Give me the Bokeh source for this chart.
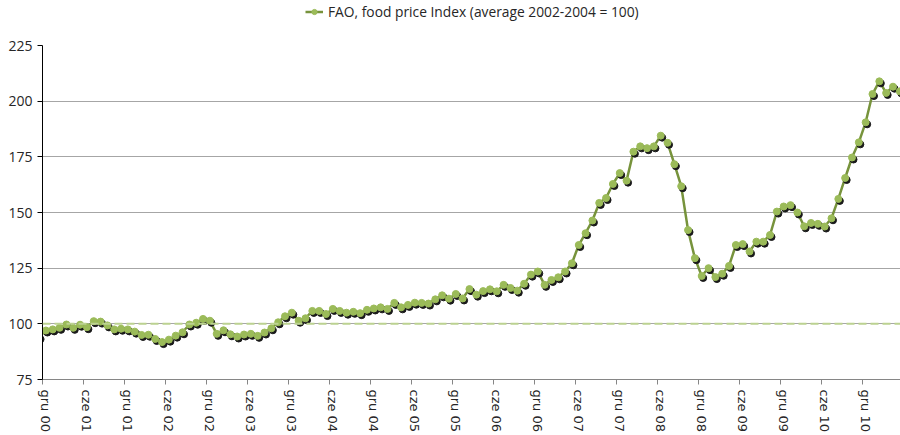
from bokeh.plotting import figure
from bokeh.layouts import column
from bokeh.models import (ColumnDataSource, FixedTicker, Span, Legend, LegendItem,
                          Range1d, CustomJSTickFormatter)
from bokeh.transform import dodge
from bokeh.embed import file_html
from bokeh.resources import INLINE

# Monthly FAO food price index, Nov 2000 (partly outside the plot) .. May 2011
series_name = "FAO, food price Index (average 2002-2004 = 100)"
fao_index = [
    94.0,
    97.0, 97.5, 98.2, 99.7, 98.2, 99.6, 98.5, 101.2, 101.0, 99.3, 97.5, 97.8,
    97.5, 96.5, 95.0, 95.1, 93.2, 91.8, 92.9, 94.7, 96.2, 99.7, 100.5, 102.2,
    101.4, 95.5, 97.1, 95.3, 94.3, 95.2, 95.5, 94.6, 96.1, 98.0, 100.7, 103.4,
    105.0, 101.4, 102.5, 105.8, 105.8, 104.4, 106.7, 105.8, 105.0, 105.4, 104.8, 106.3,
    106.9, 107.4, 106.7, 109.4, 107.4, 108.5, 109.5, 109.4, 109.1, 111.0, 112.8, 111.3,
    113.4, 111.4, 115.6, 113.1, 114.7, 115.5, 114.6, 117.5, 116.1, 114.9, 118.0, 122.1,
    123.5, 117.5, 119.7, 120.9, 123.5, 127.2, 135.4, 140.7, 146.4, 154.3, 156.5, 162.8,
    167.7, 164.3, 177.3, 179.7, 178.9, 179.7, 184.5, 181.3, 171.7, 161.8, 142.1, 129.5,
    121.5, 125.0, 121.0, 122.5, 126.0, 135.4, 135.8, 132.5, 136.9, 136.9, 139.9, 150.4,
    152.7, 153.3, 150.0, 143.8, 145.3, 144.9, 143.7, 147.4, 156.1, 165.5, 174.7, 181.5,
    190.5, 203.2, 208.9, 203.7, 206.5, 204.4,
]
tick_labels = [
    "gru 00", "cze 01", "gru 01", "cze 02", "gru 02", "cze 03", "gru 03",
    "cze 04", "gru 04", "cze 05", "gru 05", "cze 06", "gru 06", "cze 07",
    "gru 07", "cze 08", "gru 08", "cze 09", "gru 09", "cze 10", "gru 10",
]
y_ticks = [75, 100, 125, 150, 175, 200, 225]
base_level = 100
label_step = 6

LINE_COLOR = "#77933C"
DOT_COLOR = "#9BBB59"
SHADOW = "#1a1a1a"

month_pos = list(range(-1, len(fao_index) - 1))
src = ColumnDataSource(dict(x=month_pos, y=fao_index))

# ---------------- legend strip (series kept outside its tiny view) ----------------
leg_fig = figure(width=900, height=37, output_backend="svg", toolbar_location=None,
                 x_range=Range1d(0, 1), y_range=Range1d(0, 1),
                 x_axis_location=None, y_axis_location=None, min_border=0)
leg_fig.grid.visible = False
leg_fig.outline_line_color = None
leg_line = leg_fig.line("x", "y", source=src, line_color=LINE_COLOR, line_width=2.5)
leg_dot = leg_fig.scatter("x", "y", source=src, size=6, fill_color=DOT_COLOR,
                          line_color=DOT_COLOR)
legend = Legend(items=[LegendItem(label=series_name, renderers=[leg_line, leg_dot])],
                location=(263, 16), orientation="horizontal",
                border_line_color=None, background_fill_alpha=0,
                label_text_font="Open Sans", label_text_font_size="13.8px",
                label_text_color="#262626",
                glyph_width=18, glyph_height=13, label_height=13,
                padding=0, margin=0, label_standoff=5, spacing=0)
leg_fig.add_layout(legend)

# ---------------- main chart ----------------
p = figure(width=900, height=398, output_backend="svg", toolbar_location=None,
           x_range=Range1d(-0.5, len(fao_index) - 1.9),
           y_range=Range1d(y_ticks[0], y_ticks[-1]),
           min_border_left=42, min_border_right=0, min_border_top=8,
           min_border_bottom=0)
p.outline_line_color = None
p.background_fill_color = "white"
p.border_fill_color = "white"

p.xgrid.grid_line_color = None
p.ygrid.grid_line_color = "#a6a6a6"
p.ygrid.grid_line_width = 1
p.yaxis.ticker = FixedTicker(ticks=y_ticks)

p.add_layout(Span(location=base_level, dimension="width", line_color="#bcd291",
                  line_width=2, line_dash="8 4"))

yax = p.yaxis[0]
yax.axis_line_color = "black"
yax.major_tick_line_color = "black"
yax.major_tick_out = 5
yax.major_tick_in = 0
yax.minor_tick_line_color = None
yax.major_label_standoff = 5
yax.major_label_text_font = "Open Sans"
yax.major_label_text_font_size = "14px"
yax.major_label_text_color = "#262626"

label_pos = [i * label_step for i in range(len(tick_labels))]
xax = p.xaxis[0]
xax.ticker = FixedTicker(ticks=label_pos, minor_ticks=[t - 0.5 for t in label_pos])
xax.formatter = CustomJSTickFormatter(
    args=dict(labels=tick_labels, step=label_step),
    code="const k = Math.round(tick / step); return labels[k] || '';")
xax.major_tick_line_color = None
xax.minor_tick_line_color = "#868686"
xax.minor_tick_out = 5
xax.minor_tick_in = 0
xax.axis_line_color = "#868686"
xax.major_label_orientation = "vertical"
xax.major_label_standoff = 4
xax.major_label_text_font = "DejaVu Sans"
xax.major_label_text_font_size = "13px"
xax.major_label_text_color = "#262626"

p.line("x", "y", source=src, line_color=LINE_COLOR, line_width=2.5)
p.scatter(x=dodge("x", 0.22), y=dodge("y", -0.9),
          source=src, size=7, fill_color=SHADOW, line_color=SHADOW)
p.scatter("x", "y", source=src, size=7, fill_color=DOT_COLOR, line_color=DOT_COLOR)

layout = column(leg_fig, p, spacing=0)
open("out.html", "w").write(file_html(layout, INLINE))
